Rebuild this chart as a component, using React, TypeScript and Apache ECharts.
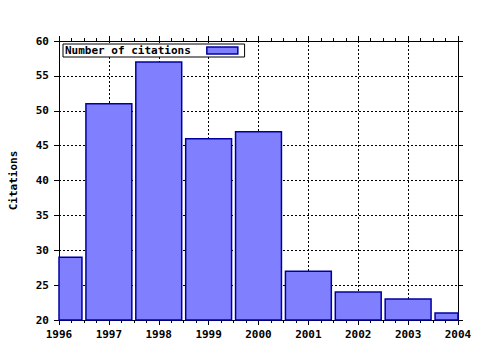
import React, { useEffect, useRef } from "react";
import * as echarts from "echarts";

const years = [1996, 1997, 1998, 1999, 2000, 2001, 2002, 2003, 2004];
const citations = [29, 51, 57, 46, 47, 27, 24, 23, 21];
const seriesName = "Number of citations";
const yAxisTitle = "Citations";
const xMin = 1996;
const xMax = 2004;
const yMin = 20;
const yMax = 60;
const barFraction = 0.92;

const FONT = "'DejaVu Sans Mono', 'Liberation Mono', monospace";
const FILL = "#8080ff";
const EDGE = "#0000a0";

export default function App() {
  const ref = useRef<HTMLDivElement>(null);
  useEffect(() => {
    if (!ref.current) return;
    const chart = echarts.init(ref.current, undefined, { renderer: "svg" });
    const labelStyle = { fontFamily: FONT, fontWeight: "bold" as const, fontSize: 11, color: "#000" };
    const axisLine = { show: true, lineStyle: { color: "#000", width: 1 } };
    const grid = { show: true, lineStyle: { color: "#000", width: 1, type: [2, 2] } };
    const tick = { show: true, inside: false, length: 5, lineStyle: { color: "#000" } };
    const minor = { show: true, splitNumber: 4, length: 3, lineStyle: { color: "#000" } };
    chart.setOption({
      animation: false,
      backgroundColor: "#fff",
      grid: { left: 57, right: 22, top: 41, bottom: 30 },
      legend: {
        left: 63,
        top: 44,
        align: "right",
        itemWidth: 31,
        itemHeight: 7,
        itemGap: 0,
        padding: [1, 6, 1, 2],
        borderColor: "#000",
        borderWidth: 1,
        borderRadius: 0,
        backgroundColor: "#fff",
        textStyle: { ...labelStyle, padding: [0, 11, 0, 0] },
        data: [
          {
            name: seriesName,
            icon: "rect",
            itemStyle: { color: FILL, borderColor: EDGE, borderWidth: 1.5 },
          },
        ],
      },
      xAxis: [
        {
          type: "value",
          min: xMin,
          max: xMax,
          interval: 1,
          position: "bottom",
          axisLine,
          axisTick: tick,
          minorTick: minor,
          axisLabel: { ...labelStyle, margin: 9, formatter: (v: number) => String(v) },
          splitLine: grid,
        },
        {
          type: "value",
          min: xMin,
          max: xMax,
          interval: 1,
          position: "top",
          axisLine,
          axisTick: tick,
          minorTick: minor,
          axisLabel: { show: false },
          splitLine: { show: false },
        },
      ],
      yAxis: [
        {
          type: "value",
          min: yMin,
          max: yMax,
          interval: 5,
          position: "left",
          name: yAxisTitle,
          nameLocation: "middle",
          nameGap: 40,
          nameRotate: 90,
          nameTextStyle: labelStyle,
          axisLine,
          axisTick: tick,
          axisLabel: { ...labelStyle, margin: 10 },
          splitLine: grid,
        },
        {
          type: "value",
          min: yMin,
          max: yMax,
          interval: 5,
          position: "right",
          axisLine,
          axisTick: tick,
          axisLabel: { show: false },
          splitLine: { show: false },
        },
      ],
      series: [
        {
          name: seriesName,
          type: "custom",
          xAxisIndex: 0,
          yAxisIndex: 0,
          z: 3,
          itemStyle: { color: FILL, borderColor: EDGE, borderWidth: 1.5 },
          data: years.map((y, i) => [y, citations[i]]),
          renderItem: (params: any, api: any) => {
            const x = api.value(0);
            const v = api.value(1);
            const p0 = api.coord([x - barFraction / 2, v]);
            const p1 = api.coord([x + barFraction / 2, yMin]);
            const rect = echarts.graphic.clipRectByRect(
              { x: p0[0], y: p0[1], width: p1[0] - p0[0], height: p1[1] - p0[1] },
              {
                x: params.coordSys.x,
                y: params.coordSys.y,
                width: params.coordSys.width,
                height: params.coordSys.height,
              }
            );
            if (!rect) return null;
            return {
              type: "rect",
              shape: rect,
              style: { fill: FILL, stroke: EDGE, lineWidth: 1.5 },
            };
          },
        },
      ],
    });
    return () => chart.dispose();
  }, []);
  return (
    <div
      ref={ref}
      style={{ position: "fixed", left: 0, top: 0, width: 480, height: 350, background: "#fff" }}
    />
  );
}
